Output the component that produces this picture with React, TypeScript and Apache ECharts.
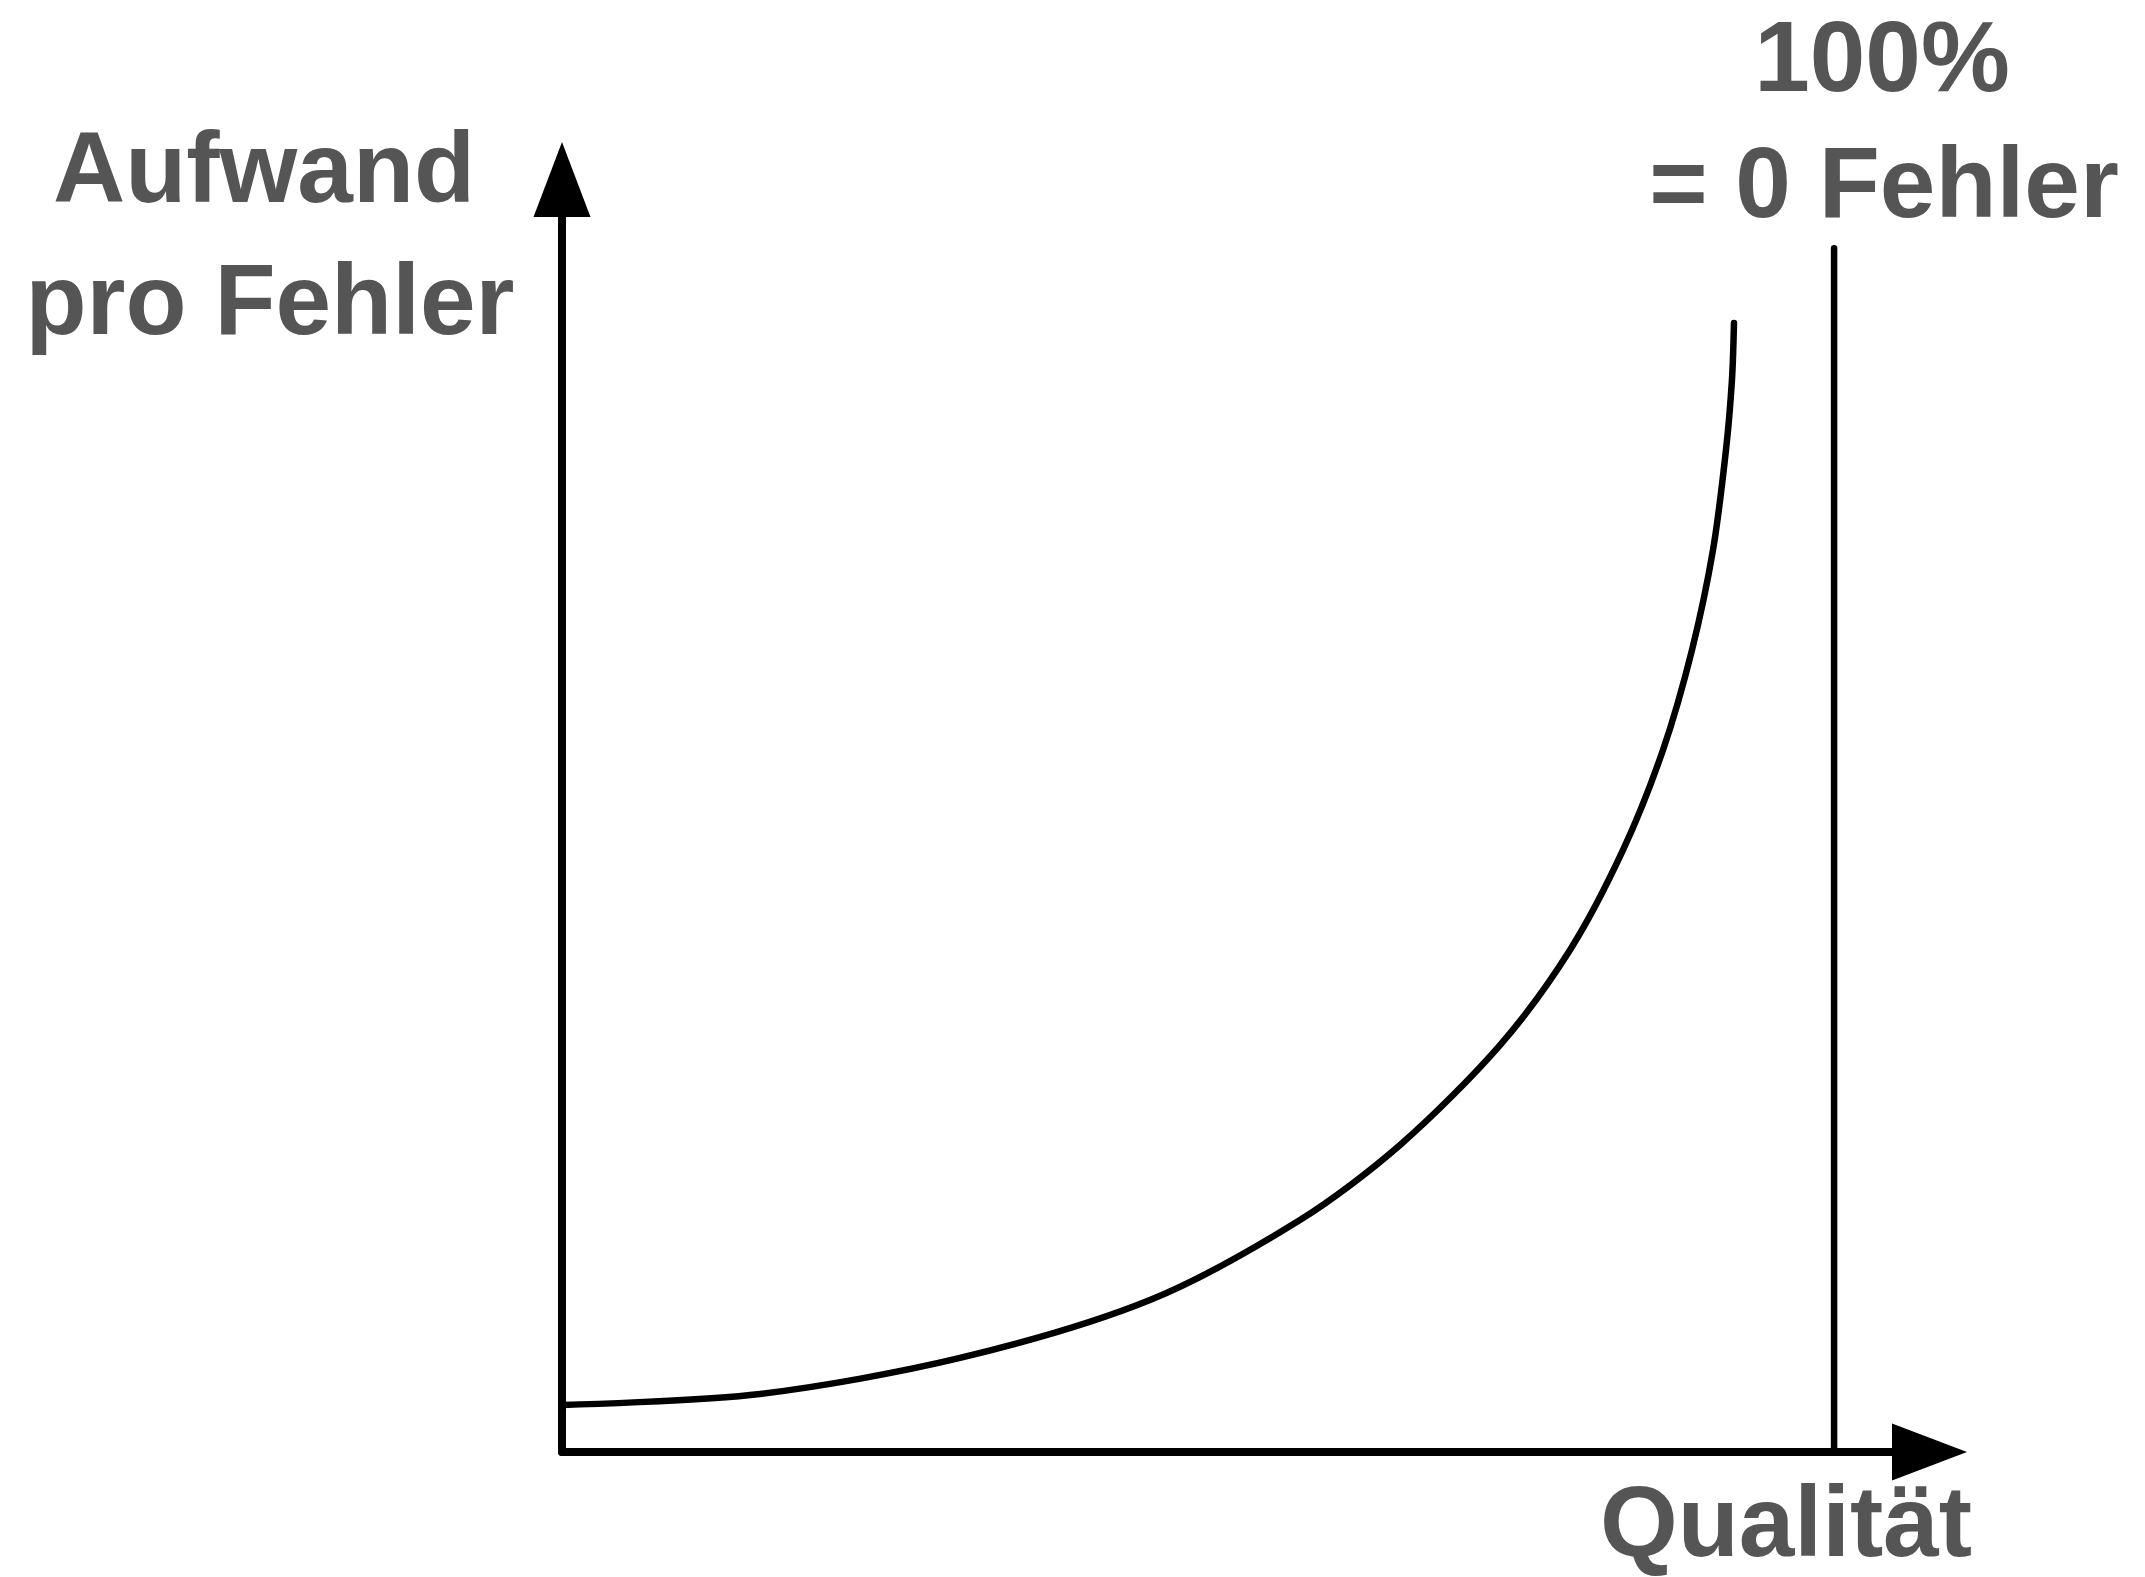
import React, { useEffect, useRef } from "react";
import * as echarts from "echarts";

// Curve: Aufwand pro Fehler vs. Qualität
const qualityX = [0, 15.57, 31.29, 46.22, 58.01, 65.88, 73.74, 79.24, 83.41, 86.55, 88.83, 90.48, 91.5, 91.97, 92.13];
const effortY = [3.69, 4.56, 7.39, 11.94, 18.23, 24.13, 31.98, 39.45, 47.31, 55.17, 63.03, 70.88, 78.74, 84.24, 88.72];

// Vertical limit line at 100 % quality (= 0 Fehler)
const limitX = [100, 100];
const limitY = [0, 94.6];

const yLabelLines = ["Aufwand", "pro Fehler"];
const limitLabelLines = ["100%", "= 0 Fehler"];
const xLabel = "Qualität";

const X_MAX = 107.5;
const Y_MAX = 100;

export default function App() {
  const ref = useRef<HTMLDivElement>(null);

  useEffect(() => {
    if (!ref.current) return;
    const chart = echarts.init(ref.current, undefined, { renderer: "svg" });
    const textStyle = {
      fill: "#555555",
      fontFamily: "Liberation Sans, Arial, Helvetica, sans-serif",
      fontWeight: "bold",
      fontSize: 100,
      lineHeight: 80,
      textAlign: "center",
      textVerticalAlign: "middle",
    };
    const axisCommon = {
      type: "value",
      axisTick: { show: false },
      axisLabel: { show: false },
      splitLine: { show: false },
      axisLine: {
        show: true,
        onZero: false,
        symbol: ["none", "triangle"],
        symbolSize: [57, 75],
        lineStyle: { color: "#000000", width: 8 },
      },
    };
    chart.setOption({
      animation: false,
      backgroundColor: "#ffffff",
      grid: { left: 562, top: 179.5, right: 215.5, bottom: 125, containLabel: false },
      xAxis: { ...axisCommon, min: 0, max: X_MAX },
      yAxis: { ...axisCommon, min: 0, max: Y_MAX },
      series: [
        {
          type: "line",
          data: qualityX.map((x, i) => [x, effortY[i]]),
          showSymbol: false,
          smooth: 0.3,
          lineStyle: { color: "#000000", width: 6.5, cap: "round", join: "round" },
          z: 3,
        },
        {
          type: "line",
          data: limitX.map((x, i) => [x, limitY[i]]),
          showSymbol: false,
          lineStyle: { color: "#000000", width: 6.5, cap: "round" },
          z: 3,
        },
      ],
      graphic: [
        { type: "text", x: 264, y: 167, style: { ...textStyle, text: yLabelLines[0] } },
        { type: "text", x: 270, y: 299, style: { ...textStyle, text: yLabelLines[1] } },
        { type: "text", x: 1882, y: 56, style: { ...textStyle, text: limitLabelLines[0] } },
        { type: "text", x: 1884, y: 181.5, style: { ...textStyle, text: limitLabelLines[1] } },
        { type: "text", x: 1786, y: 1521, style: { ...textStyle, text: xLabel } },
      ],
    });
    return () => chart.dispose();
  }, []);

  return (
    <div
      ref={ref}
      style={{ position: "absolute", left: 0, top: 0, width: 2145, height: 1577, background: "#ffffff" }}
    />
  );
}
